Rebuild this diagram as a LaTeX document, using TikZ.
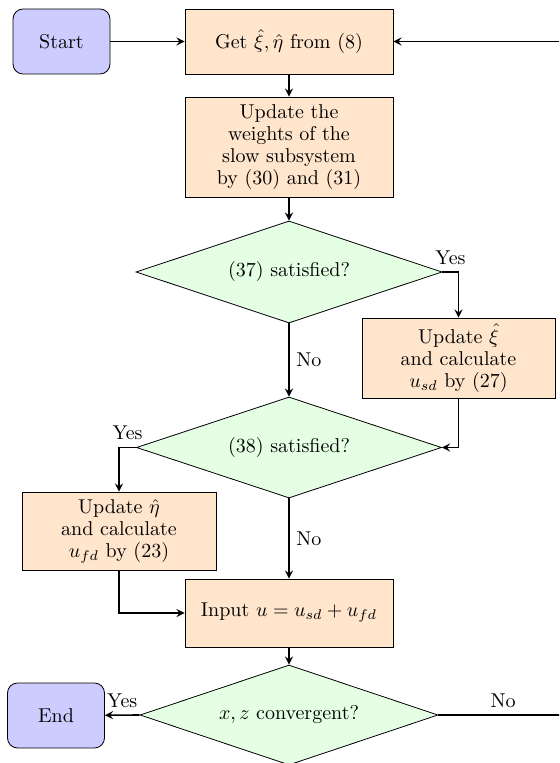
\documentclass[tikz,border=0pt]{standalone}
\usepackage{amsmath}
\usepackage{tikz}
\usetikzlibrary{shapes.geometric}

\begin{document}
\begin{tikzpicture}[x=0.5pt, y=-0.5pt,
    terminal/.style={rectangle, rounded corners=5pt, draw=black, fill=blue!20, minimum width=48.5pt, minimum height=32.5pt},
    process/.style={rectangle, draw=black, fill=orange!20, align=center, inner sep=0pt, font={\fontsize{10}{11}\selectfont}},
    decision/.style={diamond, draw=black, fill=green!10, aspect=3, inner sep=0pt},
    arrow/.style={thick, ->, >=stealth}]
    \clip (0,0) rectangle (559,763);
    % nodes
    \node[terminal] (start) at (61.5, 41.5) {Start};
    \node[process, minimum width=104pt, minimum height=32.5pt] (get) at (289, 41.5) {Get $\hat{\xi}, \hat{\eta}$ from (8)};
    \node[process, minimum width=104pt, minimum height=50pt] (weights) at (289, 147) {Update the\\ weights of the\\ slow subsystem\\ by (30) and (31)};
    \node[decision, minimum width=153pt, minimum height=51pt] (sat37) at (289, 272) {(37) satisfied?};
    \node[process, minimum width=96.5pt, minimum height=40pt] (updxi) at (458.5, 358) {Update $\hat{\xi}$\\ and calculate\\ $u_{sd}$ by (27)};
    \node[decision, minimum width=152.5pt, minimum height=50.5pt] (sat38) at (289, 447.5) {(38) satisfied?};
    \node[process, minimum width=97pt, minimum height=39pt] (updeta) at (119, 531) {Update $\hat{\eta}$\\ and calculate\\ $u_{fd}$ by (23)};
    \node[process, minimum width=104pt, minimum height=34pt] (input) at (289, 613) {Input $u = u_{sd} + u_{fd}$};
    \node[decision, minimum width=149pt, minimum height=50pt] (conv) at (289, 715) {$x, z$ convergent?};
    \node[terminal] (end) at (56, 715.5) {End};
    \coordinate (loop) at (568, 715);
    % connectors
    \draw[arrow] (start) -- (get);
    \draw[arrow] (get) -- (weights);
    \draw[arrow] (weights) -- (sat37);
    \draw[arrow] (sat37.east) -| node[pos=0.25, above] {Yes} (updxi.north);
    \draw[arrow] (sat37.south) -- node[right] {No} (sat38.north);
    \draw[arrow] (updxi.south) |- (sat38.east);
    \draw[arrow] (sat38.west) -| node[pos=0.25, above] {Yes} (updeta.north);
    \draw[arrow] (sat38.south) -- node[right] {No} (input.north);
    \draw[arrow] (updeta.south) |- (input.west);
    \draw[arrow] (input) -- (conv);
    \draw[arrow] (conv.west) -- node[above] {Yes} (end);
    \draw[arrow] (conv.east) -- node[above] {No} (loop) |- (get.east);
\end{tikzpicture}
\end{document}
